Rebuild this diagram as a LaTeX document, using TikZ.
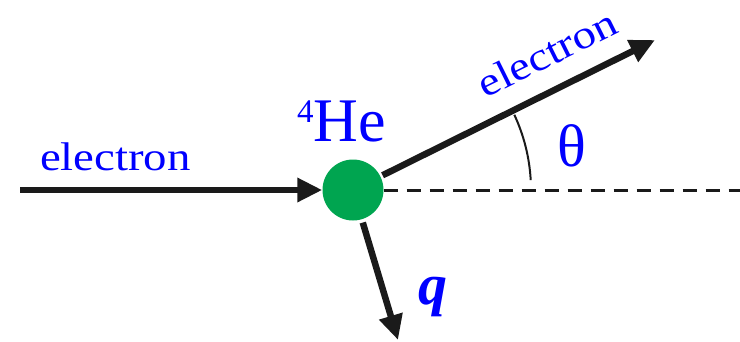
\documentclass[tikz,border=0pt]{standalone}
\usepackage{fontspec}
\setmainfont{Liberation Serif}
\newfontfamily\elecfont[FakeStretch=1.17]{Liberation Serif}
\usetikzlibrary{arrows.meta,calc}
\definecolor{hegreen}{RGB}{0,165,80}
\definecolor{arrblack}{RGB}{26,26,26}
\definecolor{txtblue}{RGB}{0,0,255}
\tikzset{
  arr/.style={draw=arrblack, line width=6.5pt, -{Triangle[length=25pt,width=23pt]}},
  lbl/.style={text=txtblue, inner sep=0pt, outer sep=0pt},
  elec/.style={lbl, font=\elecfont\fontsize{40}{40}\selectfont}
}
\begin{document}
\begin{tikzpicture}[x=1pt,y=1pt]
\useasboundingbox (0,0) rectangle (740,-341);
\node[circle, fill=hegreen, minimum size=61pt, inner sep=0pt] (c) at (353,-190) {};
\coordinate (in) at (20,-190);
\coordinate (otip) at (655,-40);
\coordinate (qtip) at (398,-340);
\coordinate (dend) at (740,-190);
\coordinate (ostart) at ($(c)!33pt!(otip)$);
\coordinate (qstart) at ($(c)!34pt!(qtip)$);
% dashed reference line
\draw[arrblack, line width=3pt, dash pattern=on 14pt off 9pt] (c.east) -- (dend);
% arrows
\draw[arr] (in) -- (c.west);
\draw[arr] (ostart) -- (otip);
\draw[arr] (qstart) -- (qtip);
% angle arc
\draw[arrblack, line width=2pt] (c) ++(3.2:178) arc[start angle=3.2, end angle=25, radius=178];
% labels
\node[elec, anchor=base west] (ein) at (40,-170) {electron};
\node[elec, rotate=26.4] (eout) at (547,-53) {electron};
\node[lbl, anchor=base west, font=\fontsize{62}{62}\selectfont] (he) at (297,-141) {\raisebox{19pt}{\fontsize{33}{33}\selectfont 4}He};
\node[lbl, font=\fontsize{60}{60}\selectfont] (th) at (572,-146) {θ};
\node[lbl, font=\fontsize{58}{58}\selectfont\bfseries\itshape] (q) at (433,-297) {q};
\end{tikzpicture}
\end{document}
